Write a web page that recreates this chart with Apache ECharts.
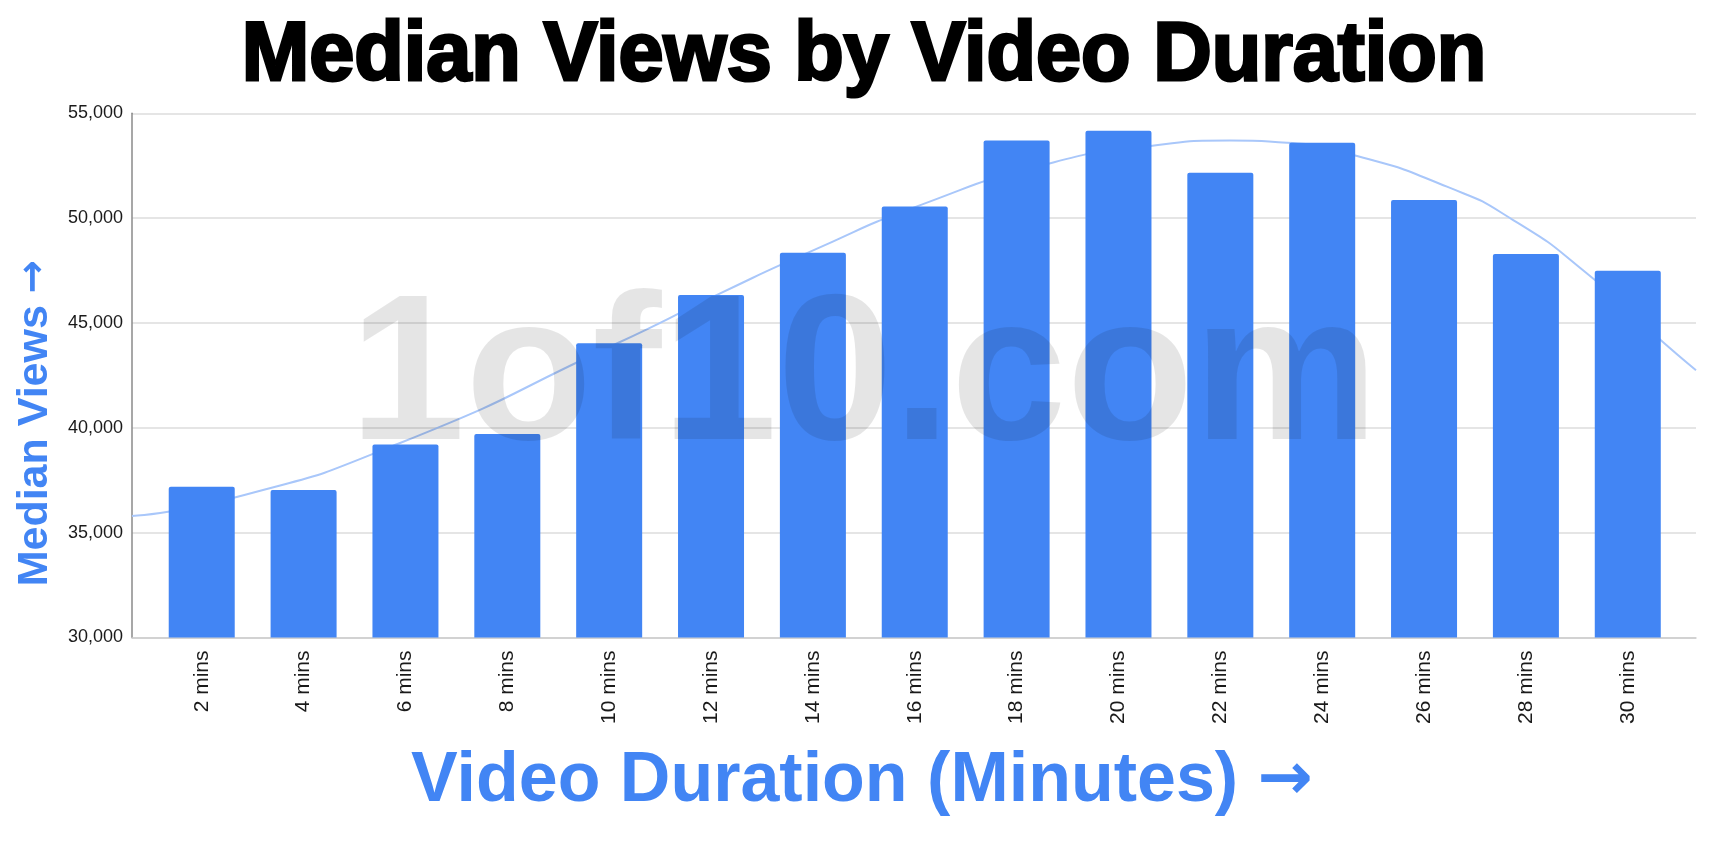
<!DOCTYPE html>
<html>
<head>
<meta charset="utf-8">
<script src="https://cdn.jsdelivr.net/npm/echarts@6/dist/echarts.min.js"></script>
<style>
html,body{margin:0;padding:0;background:#fff;}
#chart{width:1728px;height:846px;}
</style>
</head>
<body>
<div id="chart"></div>
<script>
// ---- data ----
const categories = ['2 mins','4 mins','6 mins','8 mins','10 mins','12 mins','14 mins','16 mins','18 mins','20 mins','22 mins','24 mins','26 mins','28 mins','30 mins'];
const medianViews = [37190, 37030, 39200, 39700, 44030, 46330, 48350, 50550, 53700, 54170, 52170, 53600, 50860, 48290, 47490];
// trendline: minutes position and value
const trendMinutes = [0.63, 2.61, 5.87, 10.15, 12.18, 13.95, 16.11, 18.52, 20.52, 22.19, 23.31, 24.61, 26.45, 27.75, 29.20, 30.50, 31.34];
const trendValues  = [35790, 36650, 39250, 44020, 46410, 48400, 50620, 52530, 53410, 53700, 53600, 53010, 51500, 49910, 47360, 44500, 42750];
const yTicks = [30000, 35000, 40000, 45000, 50000, 55000];
const titleText = 'Median Views by Video Duration';
const xNameText = 'Video Duration (Minutes)';
const yNameText = 'Median Views';
const arrow = '\u2192';
const watermark = '1of10.com';

const blue = '#4285f4';
const chart = echarts.init(document.getElementById('chart'));
const yMin = yTicks[0], yMax = yTicks[yTicks.length-1], yStep = yTicks[1]-yTicks[0];
const FONT = '"Liberation Sans", Arial, sans-serif';

chart.setOption({
  animation: false,
  backgroundColor: '#ffffff',
  textStyle: {fontFamily: FONT},
  grid: [
    {left: 132, right: 32, top: 113.3, bottom: 208.5},
    {left: 150.8, right: 49.3, top: 113.3, bottom: 208.5}
  ],
  xAxis: [
    {gridIndex: 0, type: 'value', min: 0.6314, max: 31.34,
     axisLine: {show: true, lineStyle: {color: '#cccccc', width: 1.5}},
     axisTick: {show: false}, axisLabel: {show: false}, splitLine: {show: false}},
    {gridIndex: 1, type: 'category', data: categories,
     axisLine: {show: false}, axisTick: {show: false},
     axisLabel: {rotate: 90, fontSize: 21, color: '#1a1a1a', margin: 13, interval: 0, fontFamily: FONT}}
  ],
  yAxis: [
    {gridIndex: 0, type: 'value', min: yMin, max: yMax, interval: yStep,
     axisLine: {show: true, lineStyle: {color: '#8a8a8a', width: 1.5}},
     axisTick: {show: false},
     axisLabel: {fontSize: 18, color: '#1a1a1a', margin: 9,
                 formatter: v => v.toLocaleString('en-US')},
     splitLine: {show: true, lineStyle: {color: '#dcdcdc', width: 1.5}}},
    {gridIndex: 1, type: 'value', min: yMin, max: yMax, interval: yStep,
     axisLine: {show: false}, axisTick: {show: false}, axisLabel: {show: false}, splitLine: {show: false}}
  ],
  series: [
    {type: 'line', xAxisIndex: 0, yAxisIndex: 0, smooth: 0.6, symbol: 'none', z: 1,
     data: trendMinutes.map((m, i) => [m, trendValues[i]]),
     lineStyle: {color: '#a9c7fa', width: 2}},
    {type: 'bar', xAxisIndex: 1, yAxisIndex: 1, data: medianViews, barWidth: 66, z: 2,
     itemStyle: {color: blue, borderRadius: [2, 2, 0, 0]}}
  ],
  graphic: [
    {type: 'text', x: 864, y: 382, z: 10, silent: true,
     style: {text: watermark, fill: 'rgba(0,0,0,0.1)', font: 'bold 208px ' + FONT,
             align: 'center', verticalAlign: 'middle'}},
    {type: 'text', x: 864, y: 57, scaleX: 0.965,
     style: {text: titleText, fill: '#000', stroke: '#000', lineWidth: 3,
             font: 'bold 84px ' + FONT, align: 'center', verticalAlign: 'middle'}},
    {type: 'text', x: 862, y: 782,
     style: {text: xNameText + ' {a|' + arrow + '}', fill: blue, font: 'bold 70px ' + FONT,
             align: 'center', verticalAlign: 'middle',
             rich: {a: {font: 'bold 66px "DejaVu Sans", sans-serif', fill: blue}}}},
    {type: 'text', x: 35, y: 423, rotation: Math.PI / 2,
     style: {text: yNameText + ' {a|' + arrow + '}', fill: blue, font: 'bold 43px ' + FONT,
             align: 'center', verticalAlign: 'middle',
             rich: {a: {font: 'bold 40px "DejaVu Sans", sans-serif', fill: blue}}}}
  ]
});
</script>
</body>
</html>
